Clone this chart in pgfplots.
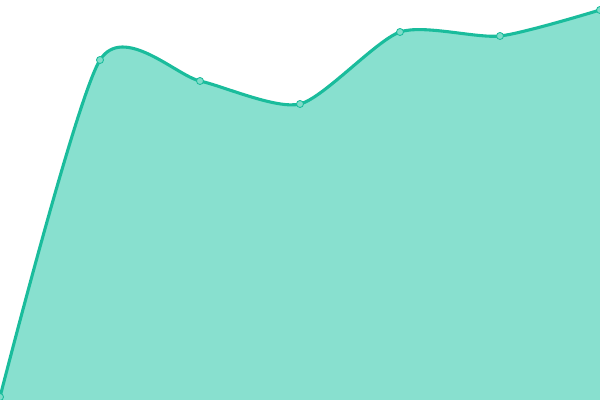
\documentclass[border=0pt]{standalone}
\usepackage{pgfplots}
\pgfplotsset{compat=1.18}
\definecolor{lineteal}{HTML}{1ABC9C}
\definecolor{fillteal}{HTML}{88E0CF}
\definecolor{markteal}{HTML}{7FDCC9}
\begin{document}
\begin{tikzpicture}
\begin{axis}[
    scale only axis,
    width=15cm, height=10cm,
    xmin=0, xmax=600, ymin=0, ymax=400,
    hide axis,
    clip=false,
]
\addplot[fill=fillteal, draw=none, smooth, tension=0.42] coordinates {
    (0,3) (100,340) (200,319) (300,296) (400,368) (500,364) (600,390)
} \closedcycle;
\addplot[color=lineteal, line width=2.2pt, smooth, tension=0.42,
    mark=*, mark size=2.5pt,
    mark options={fill=markteal, draw=lineteal, line width=0.6pt}] coordinates {
    (0,3) (100,340) (200,319) (300,296) (400,368) (500,364) (600,390)
};
\end{axis}
\pgfresetboundingbox
\path (0,0) rectangle (15cm,10cm);
\end{tikzpicture}
\end{document}
